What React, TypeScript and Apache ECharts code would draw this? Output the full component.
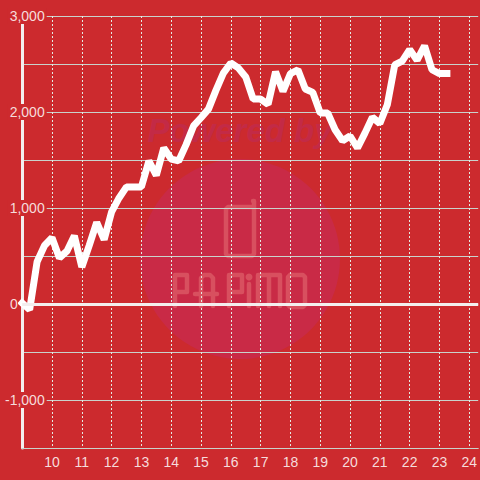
import React, { useEffect, useRef } from "react";
import * as echarts from "echarts";

const startHour = 9;
const stepHour = 0.25;
// Values, one every 15 minutes from 9:00
const values = [
  10, -60, 440, 610, 690, 480, 550, 710, 385, 610, 850, 670, 960, 1105, 1220, 1220,
  1220, 1490, 1340, 1625, 1510, 1490, 1660, 1855, 1940, 2030, 2225, 2405, 2510, 2460,
  2365, 2135, 2135, 2080, 2420, 2215, 2400, 2440, 2240, 2205, 1990, 1990, 1815, 1700,
  1750, 1625, 1780, 1945, 1880, 2075, 2490, 2530, 2650, 2540, 2690, 2440, 2400, 2400,
];
const points = values.map((v, i) => [startHour + i * stepHour, v]);

const bg = "#cc2a2e";
const labelColor = "#f6dcdc";
const axisWhite = "#f3eeee";
const gridColor = "#c9d2cc";
const dashColor = "#e4ebe4";
const logoColor = "#d8505f";

const logoLines: number[][][] = [
  [[253, 201], [254, 201], [254, 254], [252, 256], [228, 256], [226, 254], [226, 209], [228, 207], [253, 207]],
  [[175, 306], [175, 275], [187, 275], [187, 292], [175, 292]],
  [[201, 306], [201, 278], [204, 275], [210, 275], [213, 278], [213, 306]],
  [[195, 294], [217, 294]],
  [[229, 306], [229, 275], [242, 275], [242, 292], [229, 292]],
  [[249, 284], [249, 306]],
  [[258, 306], [258, 275], [280, 275], [280, 306]],
  [[269, 275], [269, 306]],
  [[290, 275], [303, 275], [305, 277], [305, 305], [303, 307], [290, 307], [288, 305], [288, 277], [290, 275]],
];

export default function App() {
  const ref = useRef<HTMLDivElement>(null);
  useEffect(() => {
    const chart = echarts.init(ref.current!, undefined, { renderer: "svg" });
    chart.setOption({
      animation: false,
      backgroundColor: bg,
      grid: { left: 20.5, top: 16, right: 0, bottom: 32, containLabel: false },
      graphic: [
        { type: "circle", z: -10, silent: true, shape: { cx: 240, cy: 259, r: 100 }, style: { fill: "#c92a46" } },
        {
          type: "text", z: -10, silent: true, x: 240, y: 147,
          style: {
            text: "Powered by", fill: "#c32a46", font: "italic bold 33px 'Liberation Sans'",
            textAlign: "center", textVerticalAlign: "bottom",
          },
        },
        ...logoLines.map((pts) => ({
          type: "polyline", z: -9, silent: true, shape: { points: pts },
          style: { stroke: logoColor, lineWidth: 4.5, fill: "none", lineJoin: "round", lineCap: "round" },
        })),
        { type: "circle", z: -9, silent: true, shape: { cx: 249, cy: 277, r: 3.5 }, style: { fill: logoColor } },
      ],
      xAxis: {
        type: "value",
        min: 9,
        max: 24.3,
        interval: 1,
        axisLine: { onZero: false, lineStyle: { color: gridColor, width: 1 } },
        axisTick: { show: false },
        axisLabel: {
          color: labelColor,
          fontSize: 14,
          fontFamily: "Liberation Sans",
          margin: 7,
          showMaxLabel: false,
          formatter: (v: number) => (v >= 10 && Number.isInteger(v) ? String(v) : ""),
        },
        splitLine: { show: true, showMaxLine: false, lineStyle: { color: dashColor, width: 1, type: [2, 2] } },
      },
      yAxis: {
        type: "value",
        min: -1500,
        max: 3000,
        interval: 500,
        axisLine: { show: true, onZero: false, lineStyle: { color: axisWhite, width: 3 } },
        axisTick: { show: false },
        axisLabel: {
          color: labelColor,
          fontSize: 14,
          fontFamily: "Liberation Sans",
          align: "right",
          margin: -24.5,
          showMinLabel: false,
          formatter: (v: number) => {
            if (v === 0) return "{z|0}";
            if (v % 1000 !== 0) return "";
            return "{n|" + v.toLocaleString("en-US") + "}";
          },
          rich: {
            n: {
              color: labelColor, fontSize: 14, fontFamily: "Liberation Sans",
              backgroundColor: bg, padding: [1, 2, 1, 2],
            },
            z: {
              color: labelColor, fontSize: 14, fontFamily: "Liberation Sans",
              padding: [0, 29, 0, 0],
            },
          },
        },
        splitLine: { show: true, lineStyle: { color: gridColor, width: 1 } },
      },
      series: [
        {
          type: "line",
          data: points,
          showSymbol: false,
          smooth: false,
          lineStyle: { color: "#ffffff", width: 7, join: "bevel", cap: "square" },
          markLine: {
            silent: true,
            symbol: "none",
            label: { show: false },
            lineStyle: { color: axisWhite, width: 3, type: "solid" },
            data: [{ yAxis: 0 }],
          },
        },
      ],
    });
    return () => chart.dispose();
  }, []);
  return <div ref={ref} style={{ position: "absolute", left: 0, top: 0, width: 480, height: 480 }} />;
}
